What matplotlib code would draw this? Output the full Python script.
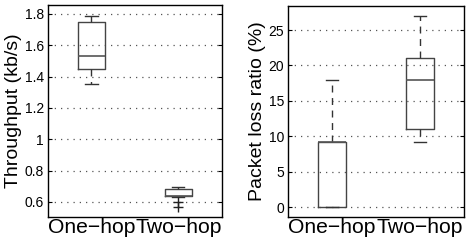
import matplotlib
matplotlib.use("Agg")
import matplotlib.pyplot as plt

plt.rcParams['font.family'] = ['Liberation Sans', 'DejaVu Sans']

groups = ["One\u2212hop", "Two\u2212hop"]

# throughput (kb/s): whislo, q1, med, q3, whishi, outliers
thr_whislo = [1.35, 0.63]
thr_q1 = [1.45, 0.638]
thr_med = [1.53, 0.640]
thr_q3 = [1.75, 0.681]
thr_whishi = [1.79, 0.695]
thr_fliers = [[], [0.598, 0.566]]
thr_ticks = [0.6, 0.8, 1.0, 1.2, 1.4, 1.6, 1.8]
thr_ticklabels = ["0.6", "0.8", "1", "1.2", "1.4", "1.6", "1.8"]

# packet loss ratio (%)
loss_whislo = [0.0, 9.2]
loss_q1 = [0.0, 11.0]
loss_med = [9.2, 18.0]
loss_q3 = [9.2, 21.0]
loss_whishi = [18.0, 27.0]
loss_fliers = [[], []]
loss_ticks = [0, 5, 10, 15, 20, 25]


def make_stats(lo, q1, med, q3, hi, fl):
    return [dict(whislo=a, q1=b, med=c, q3=d, whishi=e, fliers=f)
            for a, b, c, d, e, f in zip(lo, q1, med, q3, hi, fl)]


def draw(ax, stats, ylim, ticks, ticklabels, ylabel):
    ax.bxp(stats, positions=[1, 2], widths=0.31, capwidths=0.14,
           boxprops=dict(color='#444444', lw=1.0),
           medianprops=dict(color='#555555', lw=1.2),
           whiskerprops=dict(color='#333333', lw=1.0, linestyle=(0, (5, 4))),
           capprops=dict(color='#333333', lw=1.0),
           flierprops=dict(marker='+', markeredgecolor='#222222',
                           markersize=7, markeredgewidth=1.0))
    ax.set_xlim(0.5, 2.5)
    ax.set_ylim(*ylim)
    ax.set_yticks(ticks)
    ax.set_yticklabels(ticklabels, fontsize=10)
    ax.set_xticks([1, 2])
    ax.set_xticklabels(groups, fontsize=15.2)
    ax.set_ylabel(ylabel, fontsize=14, labelpad=2)
    ax.yaxis.grid(True, linestyle=(0, (1, 4)), color='#555555', lw=0.9)
    ax.set_axisbelow(True)
    ax.tick_params(axis='y', direction='in', length=3, pad=3, right=True)
    ax.tick_params(axis='x', length=0, pad=1)
    for s in ax.spines.values():
        s.set_linewidth(1.0)


fig = plt.figure(figsize=(4.7, 2.4), dpi=100)
ax1 = fig.add_axes([0.102, 0.096, 0.370, 0.883])
ax2 = fig.add_axes([0.613, 0.096, 0.374, 0.879])

draw(ax1, make_stats(thr_whislo, thr_q1, thr_med, thr_q3, thr_whishi, thr_fliers),
     (0.504, 1.857), thr_ticks, thr_ticklabels, "Throughput (kb/s)")
draw(ax2, make_stats(loss_whislo, loss_q1, loss_med, loss_q3, loss_whishi, loss_fliers),
     (-1.4, 28.4), loss_ticks, [str(t) for t in loss_ticks], "Packet loss ratio (%)")

fig.savefig("out.png", dpi=100)
